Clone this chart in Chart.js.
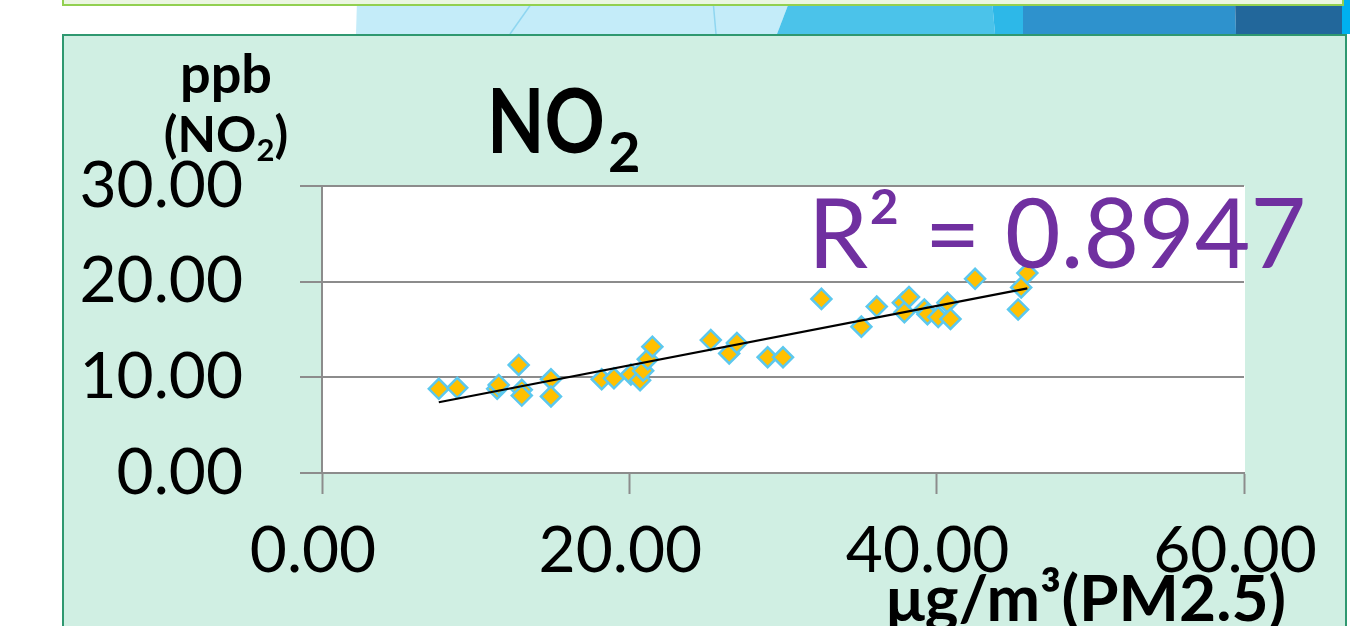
<!DOCTYPE html>
<html>
<head>
<meta charset="utf-8">
<script src="https://cdn.jsdelivr.net/npm/chart.js@4.4.1/dist/chart.umd.min.js"></script>
<style>
  html, body { margin: 0; padding: 0; background: #ffffff; }
  body { width: 1350px; height: 626px; position: relative; overflow: hidden; font-family: 'Lato', sans-serif; }
  #decor { position: absolute; left: 0; top: 0; }
  #panel { position: absolute; left: 62px; top: 34px; width: 1281px; height: 640px;
           background: #d0efe3; border: 2px solid #2f9870; }
  #chartWrap { position: absolute; left: 0; top: 0; width: 1350px; height: 626px; }
  .txt { position: absolute; line-height: 1; white-space: nowrap; color: #000; }
  .bold { font-weight: 700; }
</style>
</head>
<body>
<svg id="decor" width="1350" height="40" xmlns="http://www.w3.org/2000/svg">
  <polygon points="357,0 790,0 777,34 356,34" fill="#c4ecf9"/>
  <line x1="534" y1="0" x2="510" y2="34" stroke="#8fd6f0" stroke-width="1.5"/>
  <line x1="713" y1="0" x2="716" y2="34" stroke="#8fd6f0" stroke-width="1.5"/>
  <polygon points="790,0 992,0 995,34 777,34" fill="#4bc3ea"/>
  <polygon points="992,0 1023,0 1023,34 995,34" fill="#2db8e8"/>
  <polygon points="1023,0 1235,0 1236,34 1023,34" fill="#2e92cd"/>
  <polygon points="1235,0 1342,0 1342,34 1236,34" fill="#22679b"/>
  <polygon points="1342,0 1350,0 1350,34 1342,34" fill="#00b0f0"/>
  <rect x="63" y="-4" width="1280" height="9" fill="#ebf6e1" stroke="#92d050" stroke-width="2"/>
</svg>
<div id="panel"></div>

<div id="chartWrap"><canvas id="chart" width="1350" height="626"></canvas></div>

<div class="txt bold" style="left:487px; top:73px; font-size:90px; transform:scaleX(0.83); transform-origin:0 0;">NO</div>
<div class="txt bold" style="left:608px; top:123px; font-size:56px;">2</div>

<div class="txt bold" style="left:226px; top:46px; font-size:54px; transform:translateX(-50%);">ppb</div>
<div class="txt bold" style="left:226px; top:108px; font-size:50px; transform:translateX(-50%);">(NO<span style="font-size:0.62em; position:relative; top:0.3em;">2</span>)</div>

<div class="txt" style="left:808px; top:183px; font-size:96px; color:#7030a0;">R² = 0.8947</div>

<div class="txt bold" style="left:886px; top:565px; font-size:64px;">μg/m³(PM2.5)</div>

<script>
// PM2.5 concentration (µg/m³) and matching NO2 level (ppb) for each sample
const pm25 = [7.6, 8.8, 11.4, 11.5, 12.8, 13.0, 13.0, 14.9, 14.9, 18.2, 19.0, 20.1,
              20.7, 20.9, 21.2, 21.5, 25.3, 26.5, 27.0, 29.0, 30.0, 32.5, 35.1, 36.1,
              37.8, 37.9, 38.2, 39.2, 39.4, 40.1, 40.7, 40.9, 42.5, 45.3, 45.5, 45.9];
const no2  = [8.8, 8.9, 8.8, 9.2, 11.3, 8.7, 8.1, 9.8, 8.0, 9.8, 9.9, 10.3,
              9.7, 10.7, 11.9, 13.2, 13.9, 12.5, 13.6, 12.1, 12.1, 18.2, 15.3, 17.4,
              17.8, 16.8, 18.4, 17.1, 16.6, 16.3, 17.8, 16.1, 20.3, 17.1, 19.4, 20.9];

// Linear trendline end points
const trendX = [7.6, 45.9];
const trendY = [7.4, 19.3];

// Axis ticks
const xTicks = [0, 20, 40, 60];
const yTicks = [0, 10, 20, 30];

const points = pm25.map((x, i) => ({ x: x, y: no2[i] }));
const trend = trendX.map((x, i) => ({ x: x, y: trendY[i] }));

const plotBackground = {
  id: 'plotBackground',
  beforeDraw(chart) {
    const { ctx, chartArea: a } = chart;
    ctx.save();
    ctx.fillStyle = '#ffffff';
    ctx.fillRect(a.left, a.top, a.right - a.left + 1, a.bottom - a.top);
    ctx.restore();
  }
};

const gridGrey = '#8c8c8c';
const tickFont = { family: 'Lato', size: 64, weight: 'normal' };

new Chart(document.getElementById('chart'), {
  type: 'scatter',
  data: {
    datasets: [
      {
        label: 'trend',
        data: trend,
        showLine: true,
        borderColor: '#000000',
        borderWidth: 2.2,
        pointRadius: 0,
        order: 0
      },
      {
        label: 'NO2',
        data: points,
        pointStyle: 'rectRot',
        pointRadius: 10,
        pointBackgroundColor: '#ffc000',
        pointBorderColor: '#5cc8ee',
        pointBorderWidth: 2.5,
        order: 1
      }
    ]
  },
  plugins: [plotBackground],
  options: {
    responsive: false,
    devicePixelRatio: 1,
    animation: false,
    layout: { padding: { top: 186, right: 106, left: 0, bottom: 0 } },
    plugins: { legend: { display: false }, tooltip: { enabled: false }, title: { display: false } },
    scales: {
      x: {
        type: 'linear',
        min: 0, max: 60,
        afterBuildTicks(s) { s.ticks = xTicks.map(v => ({ value: v })); },
        afterFit(s) { s.height = 153; },
        grid: { drawOnChartArea: false, drawTicks: true, tickLength: 21, tickWidth: 2, tickColor: gridGrey },
        border: { display: true, color: gridGrey, width: 2 },
        ticks: {
          font: tickFont, color: '#000000', padding: 19, labelOffset: -9,
          maxRotation: 0, autoSkip: false,
          callback: v => Number(v).toFixed(2)
        }
      },
      y: {
        type: 'linear',
        min: 0, max: 30,
        afterBuildTicks(s) { s.ticks = yTicks.map(v => ({ value: v })); },
        afterFit(s) { s.width = 322; },
        grid: { drawOnChartArea: true, color: gridGrey, lineWidth: 2, drawTicks: true, tickLength: 22 },
        border: { display: true, color: gridGrey, width: 2 },
        ticks: {
          font: tickFont, color: '#000000', padding: 57, autoSkip: false,
          callback: v => Number(v).toFixed(2)
        }
      }
    }
  }
});
</script>
</body>
</html>
